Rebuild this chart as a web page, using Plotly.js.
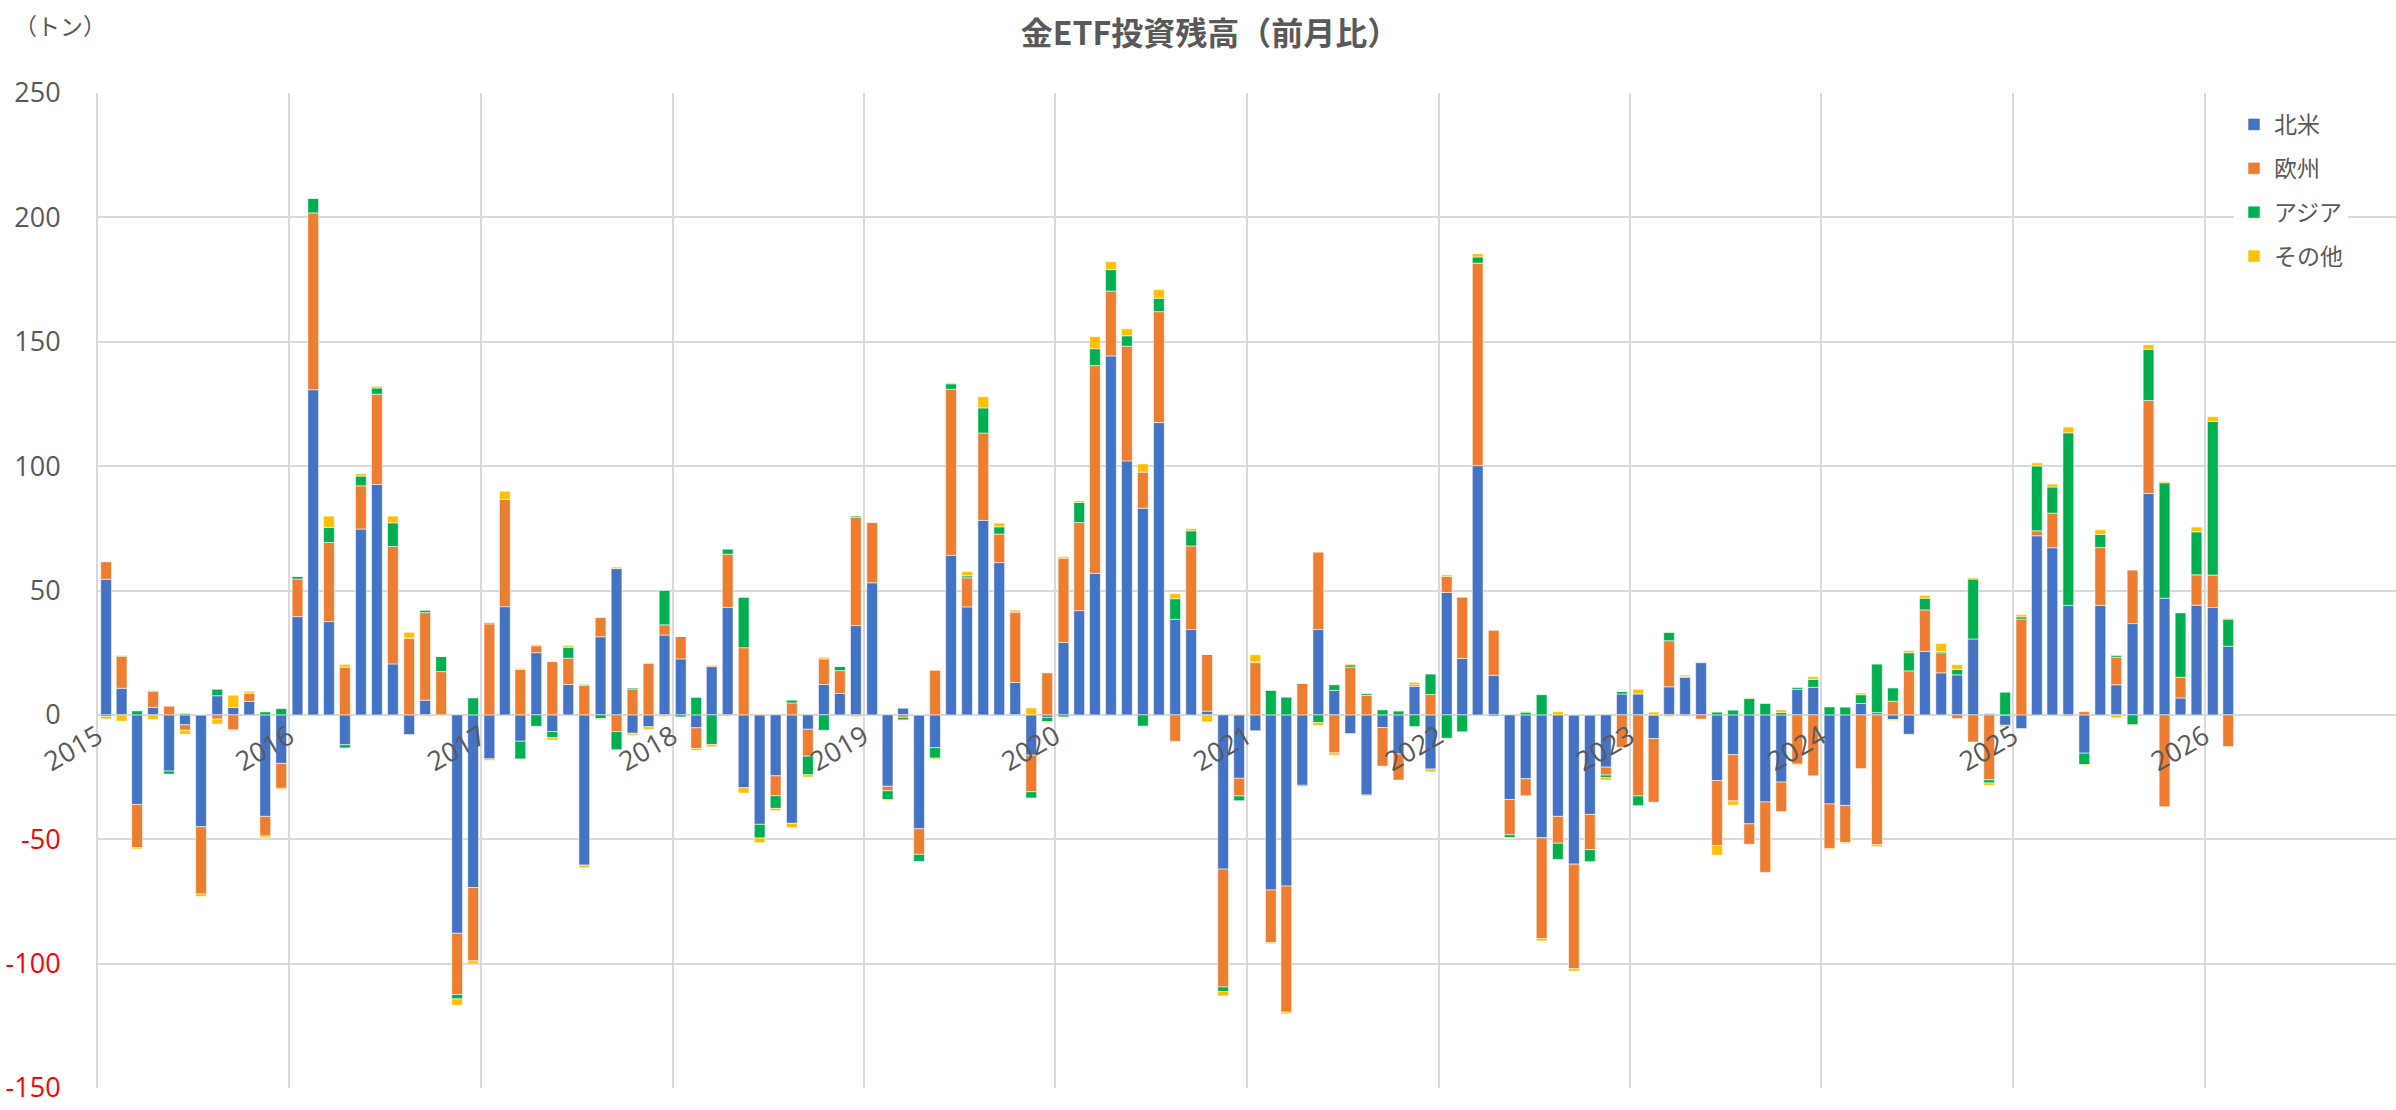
<!DOCTYPE html>
<html>
<head>
<meta charset="utf-8">
<script src="https://cdn.plot.ly/plotly-3.0.1.min.js"></script>
<style>html,body{margin:0;padding:0;background:#fff;}#chart{width:2396px;height:1110px;}</style>
</head>
<body>
<div id="chart"></div>
<script>
const months = [
'2015-01','2015-02','2015-03','2015-04','2015-05','2015-06','2015-07','2015-08','2015-09','2015-10','2015-11','2015-12',
'2016-01','2016-02','2016-03','2016-04','2016-05','2016-06','2016-07','2016-08','2016-09','2016-10','2016-11','2016-12',
'2017-01','2017-02','2017-03','2017-04','2017-05','2017-06','2017-07','2017-08','2017-09','2017-10','2017-11','2017-12',
'2018-01','2018-02','2018-03','2018-04','2018-05','2018-06','2018-07','2018-08','2018-09','2018-10','2018-11','2018-12',
'2019-01','2019-02','2019-03','2019-04','2019-05','2019-06','2019-07','2019-08','2019-09','2019-10','2019-11','2019-12',
'2020-01','2020-02','2020-03','2020-04','2020-05','2020-06','2020-07','2020-08','2020-09','2020-10','2020-11','2020-12',
'2021-01','2021-02','2021-03','2021-04','2021-05','2021-06','2021-07','2021-08','2021-09','2021-10','2021-11','2021-12',
'2022-01','2022-02','2022-03','2022-04','2022-05','2022-06','2022-07','2022-08','2022-09','2022-10','2022-11','2022-12',
'2023-01','2023-02','2023-03','2023-04','2023-05','2023-06','2023-07','2023-08','2023-09','2023-10','2023-11','2023-12',
'2024-01','2024-02','2024-03','2024-04','2024-05','2024-06','2024-07','2024-08','2024-09','2024-10','2024-11','2024-12',
'2025-01','2025-02','2025-03','2025-04','2025-05','2025-06','2025-07','2025-08','2025-09','2025-10','2025-11','2025-12',
'2026-01','2026-02'
];

// 北米
const northAmerica = [
54.5,10.7,-36,3,-22.6,-4,-45,7.7,3,5.4,-40.8,-19.5,
39.5,130.7,37.5,-12,74.7,92.6,20.5,-7.9,5.9,0,-87.8,-69.4,
-17.7,43.5,-10.6,25,-6.7,12.2,-60.4,31.4,58.8,-7.4,-4.8,32.1,
22.5,-5.2,19.4,43.2,-29.3,-44,-24.5,-43.6,-5.8,12.2,8.6,35.9,
53.1,-28.7,2.8,-45.8,-13.2,64.1,43.4,78.2,61.2,13,-16.2,-1,
29.1,41.9,56.9,144.3,102.1,83.1,117.5,38.4,34.3,1.5,-62,-25.5,
-6.4,-70.4,-68.8,-28.3,34.3,9.8,-7.5,-32.2,-5.1,-15.7,11.4,-21.8,
49.2,22.7,100.2,15.9,-34,-25.7,-49.4,-40.8,-60,-40,-21,8.4,
8.4,-9.5,11.3,15.1,21,-26.4,-16,-43.8,-35,-27,10.3,11.1,
-35.8,-36.4,4.6,0.9,-1.9,-7.8,25.5,16.9,16.1,30.5,0.5,-4.2,
-5.5,72,67.2,44,-15.4,44,12.1,36.7,89,46.9,6.8,44.1,
43.2,27.6
];

// 欧州
const europe = [
7,12.9,-17.4,6.5,3.6,-2.2,-27,-1.7,-6,3.4,-7.9,-10,
15.1,71.1,31.8,19.2,17.4,36.3,47.2,30.9,35.2,17.4,-24.6,-29.5,
36.6,43.1,18.3,2.8,21.4,10.6,11.9,7.7,-6.7,10.4,20.7,4.1,
9,-8.3,0.4,21.4,27,0.3,-8,4.8,-10.8,10.3,9.2,43.5,
24.4,-1.8,-1,-10.3,17.9,66.8,11.7,35.1,11.5,28.3,-14.7,16.9,
33.9,35.4,83.5,26.1,46.1,14.5,44.6,-10.6,33.6,22.8,-47.4,-7.1,
21,-21.2,-50.7,12.7,31.1,-15.3,19.2,7.8,-15.5,-10.5,0.7,8.2,
6.5,24.7,81.4,18.2,-14.2,-6.8,-40.5,-10.8,-42,-14.2,-3.2,-13,
-32.6,-25.6,18.5,-0.5,-1.7,-26.1,-18.6,-8.2,-28.3,-11.9,-19.8,-24.5,
-17.9,-14.9,-21.6,-52.2,5.5,17.7,16.7,8.1,-1.5,-10.9,-26.1,0,
38.5,2,13.9,-0.5,1.3,23.3,11.1,21.5,37.4,-36.9,8.3,12.2,
13,-12.7
];

// アジア
const asia = [
-0.6,0.2,1.6,0.2,-1.2,0.5,0,2.6,-0.3,0,1.2,2.5,
1.1,5.9,6.1,-1.3,3.9,2.5,9.5,0,0.9,6.1,-1.8,6.8,
0.4,0,-7.1,-4.6,-2.4,4.4,0.3,-1.5,-7.3,0.4,0.2,13.8,
-0.8,7,-11.9,2,20.2,-5.5,-5.1,1.1,-7.5,-6.2,1.7,0.5,
0,-3.6,-1,-2.8,-4.2,2.2,0.8,10.1,2.9,-0.3,-2.5,-1.7,
-0.8,8.1,6.8,8.6,4.2,-4.5,5.4,8.3,6.1,0,-1.8,-1.9,
0.3,9.8,7.1,-0.4,-3.1,2.3,0.9,0.7,2.1,1.6,-4.7,8.2,
-9.4,-6.8,2.5,-0.5,-1.1,1.1,8.1,-6.5,0,-4.8,-1,1,
-3.9,0,3.3,0.3,0.3,1.1,1.9,6.6,4.7,1,0.7,3.2,
3.2,3.1,3.5,19.5,5.3,7.3,4.7,0.5,2.2,24.1,-1.3,9.1,
0.9,26.1,10.5,69.4,-4.6,5.2,0.7,-4,20.6,46.4,26,17.3,
61.8,10.9
];

// その他
const others = [
-1,-2.5,-0.5,-1.8,0,-1.6,-1,-2,4.9,0.7,-0.7,-0.5,
0,0,4.5,1.1,0.9,0.7,2.7,2.3,-0.5,0,-2.5,-1.2,
-0.6,3.3,0.4,0.4,-1,0.7,-1,-0.4,0.6,-0.7,-1,-0.7,
0,-0.8,-0.9,-0.5,-2.1,-1.9,-0.9,-1.7,-0.9,0.7,0,-0.7,
0,-0.3,0,0,-0.5,0.4,1.7,4.5,1.5,0.8,2.8,-0.3,
0.6,0.7,4.9,3.2,2.8,3.3,3.5,2,0.9,-2.8,-1.8,0.3,
2.9,-0.4,-0.7,0,-1.1,-0.9,0.4,-0.4,0,0.2,1,-1.1,
0.6,0,1.3,0,-0.4,0.3,-1,1.3,-1,0,-1,0,
1.9,1.1,-0.7,0.6,0,-3.9,-1.7,0.4,0,1,-0.3,1.1,
-0.5,-0.5,0.7,-0.8,-0.4,0.8,1.1,3.2,1.9,0.5,-0.9,-0.6,
0.9,1.2,1.2,2.3,-0.3,1.9,-1.2,-0.3,1.8,0.5,0,1.9,
1.9,0.3
];

const seriesNames = ['北米','欧州','アジア','その他'];
const seriesColors = ['#4472C4','#ED7D31','#00B050','#FFC000'];
const seriesValues = [northAmerica, europe, asia, others];

const yTickVals = [-150,-100,-50,0,50,100,150,200,250];
const yTickText = yTickVals.map(v => v < 0 ? '<span style="color:#FF0000">' + v + '</span>' : String(v));

const chartTitle = '金ETF投資残高（前月比）';
const unitLabel = '（トン）';

const FONT = 'Open Sans, Noto Sans CJK JP, sans-serif';
const JPFONT = 'Noto Sans CJK JP, sans-serif';
const barWidthMs = 20.5 * 24 * 3600 * 1000;

const traces = seriesNames.map((name, i) => ({
  type: 'bar',
  name: name,
  x: months,
  y: seriesValues[i],
  xperiod: 'M1',
  xperiodalignment: 'middle',
  width: barWidthMs,
  legendgroup: 'g' + i,
  marker: {color: seriesColors[i], line: {color: 'rgba(255,255,255,0.55)', width: 1}},
  hoverinfo: 'skip'
}));

const layout = {
  width: 2396,
  height: 1110,
  margin: {l: 98, r: 0, t: 93, b: 22, pad: 0},
  paper_bgcolor: '#ffffff',
  plot_bgcolor: '#ffffff',
  barmode: 'relative',
  font: {family: FONT, color: '#595959'},
  title: {
    text: '<b>' + chartTitle + '</b>',
    font: {family: JPFONT, size: 32, color: '#595959'},
    x: 0.505, xanchor: 'center', xref: 'container',
    y: 1 - 34/1110, yanchor: 'middle', yref: 'container'
  },
  xaxis: {
    type: 'date',
    range: ['2015-01-01', '2027-01-01'],
    tick0: '2015-01-01',
    dtick: 'M12',
    tickformat: '%Y',
    tickangle: -30,
    anchor: 'free',
    position: 0.375,
    showgrid: true,
    gridcolor: '#D9D9D9',
    gridwidth: 2,
    zeroline: false,
    showline: false,
    ticks: '',
    tickfont: {family: FONT, size: 27, color: '#595959'}
  },
  yaxis: {
    range: [-150, 250],
    tickvals: yTickVals,
    ticktext: yTickText,
    showgrid: true,
    gridcolor: '#D9D9D9',
    gridwidth: 2,
    zeroline: true,
    zerolinecolor: '#D9D9D9',
    zerolinewidth: 2,
    showline: true,
    linecolor: '#D9D9D9',
    linewidth: 2,
    ticks: 'outside',
    ticklen: 30,
    tickcolor: 'rgba(0,0,0,0)',
    tickfont: {family: FONT, size: 27, color: '#595959'}
  },
  legend: {
    x: 0.9295, xanchor: 'left',
    y: 0.990, yanchor: 'top',
    bgcolor: '#ffffff',
    font: {family: JPFONT, size: 23, color: '#595959'},
    traceorder: 'grouped',
    tracegroupgap: 11
  },
  annotations: [{
    text: unitLabel,
    xref: 'paper', yref: 'paper',
    x: -0.0374, y: 1.068,
    xanchor: 'left', yanchor: 'middle',
    showarrow: false,
    font: {family: JPFONT, size: 23, color: '#595959'}
  }],
  showlegend: true
};

Plotly.newPlot('chart', traces, layout, {displayModeBar: false, staticPlot: true});
</script>
</body>
</html>
